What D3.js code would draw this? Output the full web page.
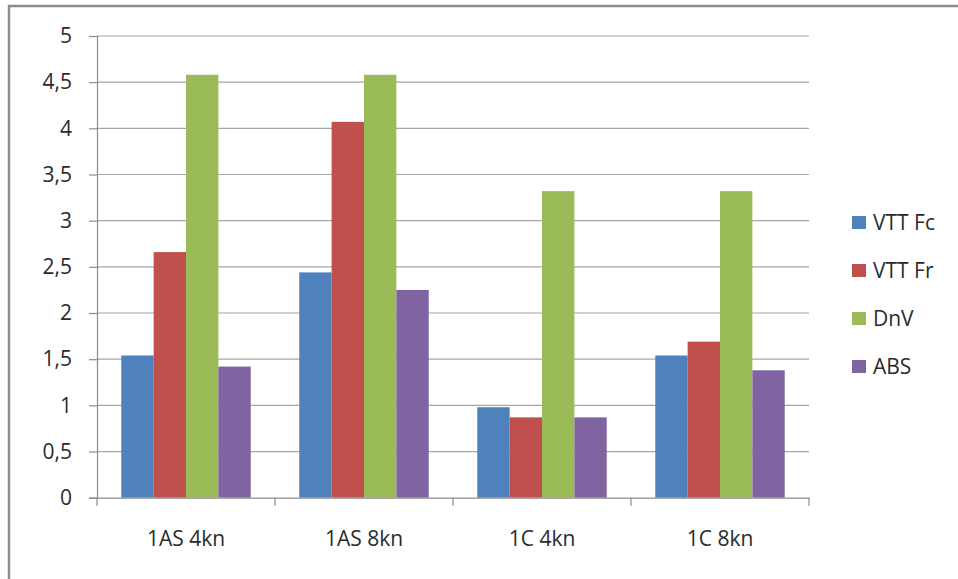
<!DOCTYPE html>
<html>
<head>
<meta charset="utf-8">
<script src="https://cdn.jsdelivr.net/npm/d3@7"></script>
<style>
  html, body { margin: 0; padding: 0; background: #fff; }
  svg { display: block; }
  text { font-family: "Open Sans", "Liberation Sans", sans-serif; fill: #2b2b2b; }
</style>
</head>
<body>
<svg id="chart" width="958" height="579"></svg>
<script>
// Categories, series and values
const categories = ["1AS 4kn", "1AS 8kn", "1C 4kn", "1C 8kn"];
const seriesNames = ["VTT Fc", "VTT Fr", "DnV", "ABS"];
const seriesColors = ["#4F81BD", "#C0504D", "#9BBB59", "#8064A2"];
const vttFc = [1.54, 2.44, 0.98, 1.54];
const vttFr = [2.66, 4.07, 0.87, 1.69];
const dnv   = [4.58, 4.58, 3.32, 3.32];
const abs   = [1.42, 2.25, 0.87, 1.38];
const yTicks = [0, 0.5, 1, 1.5, 2, 2.5, 3, 3.5, 4, 4.5, 5];

const seriesValues = [vttFc, vttFr, dnv, abs];

const svg = d3.select("#chart");
const W = 958, H = 579;
const plot = { left: 97, right: 809, top: 36, bottom: 497.7 };
const FONT = 21;

// Outer chart frame
svg.append("rect")
  .attr("x", 9).attr("y", 6)
  .attr("width", W + 20).attr("height", H + 20)
  .attr("fill", "#fff")
  .attr("stroke", "#8c8c8c")
  .attr("stroke-width", 2.5);

const x0 = d3.scaleBand()
  .domain(categories)
  .range([plot.left, plot.right])
  .paddingInner(0).paddingOuter(0);

// Excel-style gap width: 150% of one bar on each cluster
const barW = x0.bandwidth() / 5.5;
const x1 = d3.scaleBand()
  .domain(seriesNames)
  .range([barW * 0.75, barW * 0.75 + barW * 4])
  .padding(0);

const y = d3.scaleLinear().domain([0, 5]).range([plot.bottom, plot.top]);

// Horizontal gridlines
svg.append("g")
  .selectAll("line")
  .data(yTicks.filter(t => t > 0))
  .join("line")
  .attr("x1", plot.left).attr("x2", plot.right)
  .attr("y1", d => y(d)).attr("y2", d => y(d))
  .attr("stroke", "#a6a6a6")
  .attr("stroke-width", 1.2);

// Y axis
const fmt = d => String(d).replace(".", ",");
const yAxis = svg.append("g")
  .attr("transform", `translate(${plot.left},0)`)
  .call(d3.axisLeft(y).tickValues(yTicks).tickFormat(fmt).tickSize(8).tickPadding(17));
yAxis.select(".domain").attr("stroke", "#8c8c8c").attr("stroke-width", 1.2);
yAxis.selectAll(".tick line").attr("stroke", "#8c8c8c").attr("stroke-width", 1.2);
yAxis.selectAll(".tick text")
  .attr("font-size", FONT)
  .attr("font-family", "'Open Sans', 'Liberation Sans', sans-serif")
  .attr("fill", "#2b2b2b");

// Bars
const groups = svg.append("g")
  .selectAll("g")
  .data(categories)
  .join("g")
  .attr("transform", d => `translate(${x0(d)},0)`);

groups.selectAll("rect")
  .data((c, ci) => seriesNames.map((s, si) => ({ s, si, v: seriesValues[si][ci] })))
  .join("rect")
  .attr("x", d => x1(d.s))
  .attr("width", x1.bandwidth())
  .attr("y", d => y(d.v))
  .attr("height", d => y(0) - y(d.v))
  .attr("fill", d => seriesColors[d.si]);

// X axis
const xAxis = svg.append("g")
  .attr("transform", `translate(0,${plot.bottom})`)
  .call(d3.axisBottom(x0).tickSize(0).tickPadding(33));
xAxis.select(".domain").attr("stroke", "#8c8c8c").attr("stroke-width", 1.2);
xAxis.selectAll(".tick text")
  .attr("font-size", FONT)
  .attr("font-family", "'Open Sans', 'Liberation Sans', sans-serif")
  .attr("fill", "#2b2b2b");

// Category boundary ticks
const bounds = categories.map(c => x0(c)).concat([plot.right]);
svg.append("g")
  .selectAll("line")
  .data(bounds)
  .join("line")
  .attr("x1", d => d).attr("x2", d => d)
  .attr("y1", plot.bottom).attr("y2", plot.bottom + 8)
  .attr("stroke", "#8c8c8c")
  .attr("stroke-width", 1.2);

// Legend
const legendY = [223, 271, 319, 367];
const legend = svg.append("g")
  .selectAll("g")
  .data(seriesNames)
  .join("g")
  .attr("transform", (d, i) => `translate(852,${legendY[i]})`);
legend.append("rect")
  .attr("x", 0).attr("y", -7)
  .attr("width", 14).attr("height", 13)
  .attr("fill", (d, i) => seriesColors[i]);
legend.append("text")
  .attr("x", 21).attr("y", 0)
  .attr("dy", "0.35em")
  .attr("font-size", FONT)
  .text(d => d);
</script>
</body>
</html>
